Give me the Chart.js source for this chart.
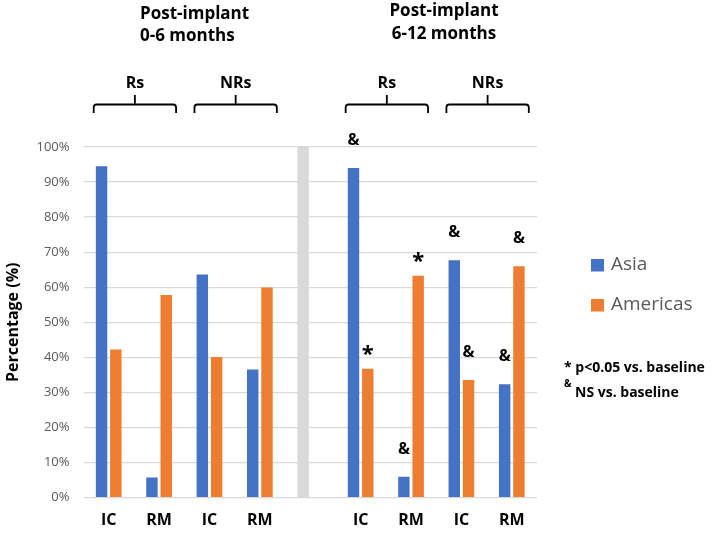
<!DOCTYPE html>
<html>
<head>
<meta charset="utf-8">
<script src="https://cdn.jsdelivr.net/npm/chart.js@4.4.1/dist/chart.umd.min.js"></script>
<style>
  html, body { margin: 0; padding: 0; background: #fff; }
</style>
</head>
<body>
<canvas id="chart" width="722" height="535"></canvas>
<script>
// categories along the x axis (empty slot holds the grey divider)
const categories = ['IC', 'RM', 'IC', 'RM', '', 'IC', 'RM', 'IC', 'RM'];

// series values (%)
const asia     = [94.5, 5.7, 63.6, 36.5, null, 94.0, 5.9, 67.7, 32.3];
const americas = [42.2, 57.8, 40.1, 59.9, null, 36.7, 63.3, 33.5, 66.0];
const divider  = [null, null, null, null, 100, null, null, null, null];

// significance marks above each bar
const asiaMarks     = ['', '', '', '', '', '&', '&', '&', '&'];
const americasMarks = ['', '', '', '', '', '*', '*', '&', '&'];

// brace groups: label + first/last category index
const groupLabels = ['Rs', 'NRs', 'Rs', 'NRs'];
const groupFrom   = [0, 2, 5, 7];
const groupTo     = [1, 3, 6, 8];

const FONT = "'Open Sans', sans-serif";
const BLUE = '#4472C4';
const ORANGE = '#ED7D31';
const GREY = '#D9D9D9';

const overlay = {
    id: 'overlay',
    afterDatasetsDraw(chart) {
        const ctx = chart.ctx;
        const xs = chart.scales.x;
        ctx.save();
        ctx.fillStyle = '#000';
        ctx.textAlign = 'center';

        // marks above bars
        [[0, asiaMarks], [1, americasMarks]].forEach(([di, marks]) => {
            const meta = chart.getDatasetMeta(di);
            marks.forEach((m, i) => {
                if (!m) return;
                const bar = meta.data[i];
                ctx.textBaseline = 'alphabetic';
                if (m === '*') {
                    ctx.font = 'bold 22px ' + FONT;
                    ctx.fillText(m, bar.x, bar.y - 8);
                } else {
                    ctx.font = 'bold 16px ' + FONT;
                    ctx.fillText(m, bar.x, bar.y - 23);
                }
            });
        });

        // period titles
        ctx.font = 'bold 17px ' + FONT;
        ctx.textBaseline = 'middle';
        ctx.textAlign = 'left';
        ctx.fillText('Post-implant', 140, 14);
        ctx.fillText('0-6 months', 140, 36);
        ctx.textAlign = 'center';
        ctx.fillText('Post-implant', 444, 11);
        ctx.fillText('6-12 months', 444, 34);

        // braces + group labels
        ctx.strokeStyle = '#000';
        ctx.lineWidth = 1.8;
        groupLabels.forEach((lab, g) => {
            const l = xs.getPixelForValue(groupFrom[g]) - 15;
            const r = xs.getPixelForValue(groupTo[g]) + 17;
            const c = (l + r) / 2;
            const yl = 104.5, yb = 113, yt = 95, rad = 3;
            ctx.beginPath();
            ctx.moveTo(l, yb);
            ctx.lineTo(l, yl + rad);
            ctx.arcTo(l, yl, l + rad, yl, rad);
            ctx.lineTo(r - rad, yl);
            ctx.arcTo(r, yl, r, yl + rad, rad);
            ctx.lineTo(r, yb);
            ctx.moveTo(c, yl);
            ctx.lineTo(c, yt);
            ctx.stroke();
            ctx.font = 'bold 16px ' + FONT;
            ctx.fillText(lab, c, 83);
        });

        // legend
        ctx.textAlign = 'left';
        ctx.font = '19px ' + FONT;
        [['Asia', BLUE, 265], ['Americas', ORANGE, 305]].forEach(([t, col, y]) => {
            ctx.fillStyle = col;
            ctx.fillRect(591, y - 6, 13, 12.5);
            ctx.fillStyle = '#595959';
            ctx.fillText(t, 611, y);
        });

        // footnote
        ctx.fillStyle = '#000';
        ctx.font = 'bold 14px ' + FONT;
        ctx.fillText('* p<0.05 vs. baseline', 564, 368);
        ctx.fillText('NS vs. baseline', 575, 393);
        ctx.font = 'bold 10px ' + FONT;
        ctx.fillText('&', 564, 384);
        ctx.restore();
    }
};

new Chart(document.querySelector('#chart').getContext('2d'), {
    type: 'bar',
    data: {
        labels: categories,
        datasets: [
            { label: 'Asia', data: asia, backgroundColor: BLUE, stack: 'a' },
            { label: 'Americas', data: americas, backgroundColor: ORANGE, stack: 'b' },
            { label: 'divider', data: divider, backgroundColor: GREY, stack: 'a' }
        ]
    },
    options: {
        responsive: false,
        animation: false,
        categoryPercentage: 0.567,
        barPercentage: 0.8,
        layout: { padding: { left: 3.5, right: 185, top: 147, bottom: 5.5 } },
        plugins: { legend: { display: false }, tooltip: { enabled: false } },
        scales: {
            x: {
                afterFit(scale) { scale.height = 32; },
                grid: { display: false, drawTicks: false },
                border: { display: false },
                ticks: {
                    color: '#000', padding: 13, maxRotation: 0, autoSkip: false,
                    font: { family: FONT, size: 16, weight: 'bold' }
                }
            },
            y: {
                stacked: true,
                min: 0, max: 100,
                afterFit(scale) { scale.width = 80; },
                grid: { color: GREY, lineWidth: 1.2, drawTicks: false },
                border: { display: false },
                ticks: {
                    stepSize: 10, padding: 14, color: '#595959',
                    callback: v => v + '%',
                    font: { family: FONT, size: 13 }
                },
                title: {
                    display: true, text: 'Percentage (%)', color: '#000',
                    padding: { top: 0, bottom: 0 },
                    font: { family: FONT, size: 16, weight: 'bold' }
                }
            }
        }
    },
    plugins: [overlay]
});
</script>
</body>
</html>
